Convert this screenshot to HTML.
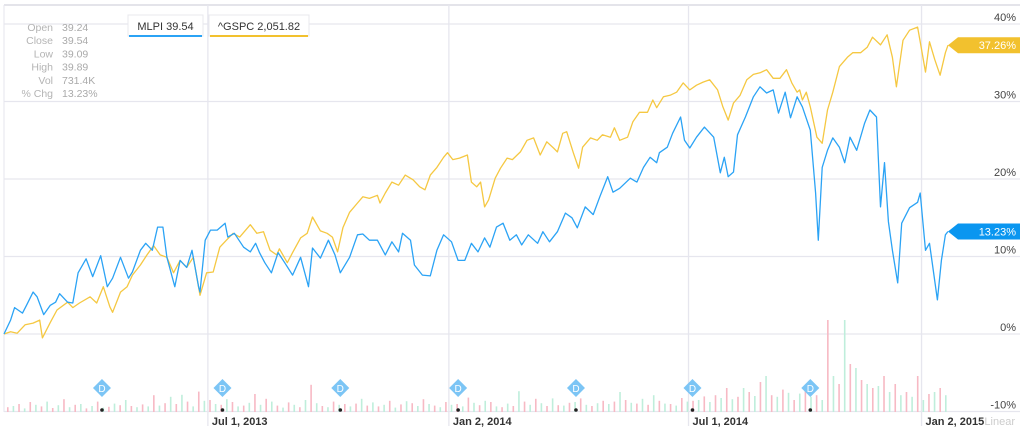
<!DOCTYPE html>
<html><head><meta charset="utf-8">
<style>
body{margin:0;background:#fff;width:1024px;height:436px;overflow:hidden;font-family:"Liberation Sans",sans-serif}
svg{display:block}
</style></head>
<body>
<svg id="chart" width="1024" height="436" xmlns="http://www.w3.org/2000/svg"></svg>
<script>
const mlpiDays=[0,5,8,14,17,22,25,30,35,39,42,48,52,56,62,67,73,78,82,88,94,97,103,107,112,116,120,123,129,133,138,142,147,148,152,156,161,167,169,174,181,186,190,193,197,202,207,212,218,224,230,233,239,245,250,254,261,267,271,276,282,288,293,298,301,307,310,316,322,327,332,338,343,348,353,358,363,367,372,377,382,387,391,396,403,407,412,418,424,429,433,439,445,450,456,460,465,473,478,483,488,493,495,501,505,511,514,518,523,529,536,541,544,547,551,554,560,566,571,576,581,585,590,594,599,603,609,613,615,618,622,626,631,635,639,644,650,654,659,662,665,668,671,675,678,684,690,692,696,699,705,708,711,713];
const mlpiValues=[0,1.8,3.4,2.7,3.7,5.4,4.8,2.5,3.7,4.1,5.2,4.1,4.0,7.9,9.7,7.4,10.1,6.1,7.2,9.9,7.2,8.0,10.8,11.7,10.8,13.8,13.8,9.9,6.1,9.5,8.6,10.8,6.1,5.4,12.1,13.4,13.4,14.3,12.5,13.0,11.2,10.6,11.7,10.5,9.2,7.9,10.5,9.2,7.6,9.9,6.1,11.1,9.8,12.1,10.2,7.9,9.9,12.8,12.9,12.1,12.1,10.2,11.9,10.6,13.0,12.1,8.9,7.6,7.5,10.8,12.8,11.9,9.5,9.5,11.7,10.6,12.4,11.2,13.8,14.3,12.1,12.8,11.5,12.8,11.7,13.2,11.9,13.2,15.6,15.0,13.7,16.4,15.4,17.7,20.3,18.3,18.8,20.1,19.6,21.5,22.8,22.1,23.4,24.1,25.9,28.0,25.0,24.0,25.4,26.7,25.4,20.8,22.8,20.3,20.9,25.7,28.0,30.6,31.9,31.1,31.5,28.5,31.2,27.9,30.6,29.3,26.3,18.2,12.1,21.5,23.7,25.3,24.1,22.1,25.4,23.7,27.2,28.9,28.0,16.4,22.1,14.5,10.8,6.6,14.3,16.3,17.0,18.2,10.8,11.7,4.4,9.5,12.8,13.23];
const gspcDays=[0,5,10,16,22,27,29,35,40,48,52,57,65,70,75,80,82,88,93,97,103,108,113,118,123,128,133,138,143,148,153,158,163,168,173,178,186,191,196,201,206,208,214,218,224,229,233,239,244,248,252,256,261,267,271,276,282,284,288,293,298,303,309,314,318,322,327,332,335,339,344,350,353,357,360,363,366,371,375,380,384,390,395,400,405,410,415,418,422,425,430,434,437,443,448,452,458,461,465,471,475,480,486,490,493,498,503,508,513,518,523,528,533,539,543,547,551,556,561,566,571,576,581,586,591,595,599,601,603,606,609,614,618,622,626,631,637,641,647,652,656,662,667,671,674,679,684,690,692,696,699,703,707,711,713];
const gspcValues=[0,0.3,0.1,1.2,1.4,1.8,-0.5,1.5,3.1,4.1,3.4,4.0,4.8,4.0,6.1,3.5,2.8,5.4,6.1,7.6,8.9,10.2,11.4,10.2,9.9,7.9,9.5,8.6,9.9,5.0,7.9,8.0,11.2,12.1,13.0,12.5,14.1,13.0,13.2,10.8,10.2,11.0,9.2,10.5,12.4,13.0,15.1,13.3,13.0,12.5,10.6,13.7,15.7,16.9,17.7,17.5,17.9,16.9,18.2,19.6,19.2,20.5,19.9,19.0,18.6,20.5,21.5,22.8,23.4,22.5,22.7,23.1,19.6,19.0,19.6,16.4,17.3,20.1,21.4,22.7,22.5,23.5,25.0,25.3,23.1,24.8,24.0,23.5,25.9,26.1,23.4,21.4,24.1,25.3,25.0,25.7,25.4,26.6,25.0,25.4,27.4,28.6,28.6,30.2,29.2,30.6,30.8,31.2,32.4,31.5,32.1,32.5,32.8,31.5,29.3,27.6,29.8,30.8,32.8,33.5,33.7,34.1,33.0,33.0,34.1,32.4,31.2,31.5,30.2,31.2,29.3,25.4,24.6,28.9,31.2,34.5,35.7,36.3,36.3,37.0,38.3,37.3,38.6,35.7,31.9,37.9,39.2,39.6,37.7,33.8,37.7,35.4,33.4,36.3,37.26];
const yTicks=[40,30,20,10,0,-10];
const yTickLabels=["40%","30%","20%","10%","0%","-10%"];
const xTickDays=[154,336,517,693];
const xTickLabels=["Jul 1, 2013","Jan 2, 2014","Jul 1, 2014","Jan 2, 2015"];
const dividendDays=[74,165,254,343,432,520,609];
// volume in thousands; negative = down day (red)
const volumes=[-120,150,-200,90,-250,180,-140,260,-100,170,-320,120,-180,200,-90,150,-260,110,-130,210,-170,300,-150,120,-190,140,-420,160,-220,380,-200,430,-260,140,-510,280,-300,200,-180,320,-250,140,-160,230,-450,180,-330,260,-160,110,-240,180,-120,300,-680,220,-150,120,-260,180,-200,140,-210,330,-160,240,-140,180,-280,110,-190,270,-220,150,-320,200,-160,120,-250,180,-200,140,-360,230,-170,280,-250,140,-120,210,-150,520,-260,180,-330,220,-150,340,-170,160,-230,250,-340,180,-150,220,-280,200,-260,500,-300,230,-210,330,-180,420,-280,210,-200,160,-350,260,-280,300,-390,250,-420,350,-600,320,-380,600,-500,400,-750,900,-420,380,-560,480,-300,460,-650,380,-420,300,-2300,900,-700,2300,-1200,1100,-800,700,-600,650,-900,500,-700,420,-500,380,-900,300,-450,500,-600,420];
const svgNS="http://www.w3.org/2000/svg";
const svg=document.getElementById('chart');
const X0=4,PXDAY=1.324,Y0=334,PXPCT=7.75,VBASE=412,PXVOL=0.04;
function xScale(d){return X0+d*PXDAY;}
function yScale(v){return Y0-v*PXPCT;}
function mk(tag,attrs){const e=document.createElementNS(svgNS,tag);for(const k in attrs)e.setAttribute(k,attrs[k]);svg.appendChild(e);return e;}
// frame
let e=mk('line',{x1:4,y1:5,x2:1020,y2:5,stroke:'#dcdce4','stroke-width':1.5});


e=mk('line',{x1:4,y1:5,x2:4,y2:412,stroke:'#e6e6ee','stroke-width':1});


yTicks.forEach((t,i)=>{
  const y=yScale(t);
  const g=mk('line',{x1:4,y1:y,x2:1020,y2:y,stroke:'#e6e6ee','stroke-width':1.3});
  
  
  const tx=mk('text',{x:1016,y:y-3,'text-anchor':'end','font-size':11,fill:'#444'});
  tx.textContent=yTickLabels[i];
  
  
});
xTickDays.forEach((d,i)=>{
  const x=xScale(d);
  const g=mk('line',{x1:x,y1:5,x2:x,y2:426,stroke:'#e6e6ee','stroke-width':1.3});
  
  
  const tx=mk('text',{x:x+4,y:425,'font-size':11,'font-weight':'bold',fill:'#333'});
  tx.textContent=xTickLabels[i];
  
  
});
// volume bars
const vstep=(945-7)/(volumes.length-1);
volumes.forEach((v,i)=>{
  const h=Math.abs(v)*PXVOL;
  const r=mk('rect',{x:7+i*vstep,y:VBASE-h,width:1.6,height:h,fill:v<0?'#f7b9c4':'#bfeedb'});
  
  
});
// dividends
dividendDays.forEach(d=>{
  const x=xScale(d);
  const dot=mk('circle',{cx:x,cy:410,r:1.8,fill:'#222'});
  
  
  const p=mk('polygon',{points:`${x},379 ${x+9},388 ${x},397 ${x-9},388`,fill:'#7cc5f5'});
  
  
  const t=mk('text',{x:x,y:392,'text-anchor':'middle','font-size':10,fill:'#fff'});
  t.textContent='D';
  
  
});
function line(days,vals,color,name){
  const pts=days.map((d,i)=>xScale(d).toFixed(1)+','+yScale(vals[i]).toFixed(1)).join(' ');
  const p=mk('polyline',{points:pts,fill:'none',stroke:color,'stroke-width':1.3,'stroke-linejoin':'round'});
  
  
}
line(gspcDays,gspcValues,'#f5c842','gspc-line');
line(mlpiDays,mlpiValues,'#2ba3f5','mlpi-line');
function tag(v,color,name){
  const y=yScale(v);
  const p=mk('polygon',{points:`948,${y} 958,${y-8} 1020,${y-8} 1020,${y+8} 958,${y+8}`,fill:color});
  
  
  const t=mk('text',{x:1016,y:y+4,'text-anchor':'end','font-size':11,fill:'#fff'});
  t.textContent=v.toFixed(2)+'%';
  
  
}
tag(gspcValues[gspcValues.length-1],'#f2c12e','gspc-last-value-tag');
tag(mlpiValues[mlpiValues.length-1],'#0a96f0','mlpi-last-value-tag');
e=mk('text',{x:1015,y:425,'text-anchor':'end','font-size':11,fill:'#ccc'});
e.textContent='Linear';


// info panel
const infoL=["Open","Close","Low","High","Vol","% Chg"];
const infoV=["39.24","39.54","39.09","39.89","731.4K","13.23%"];
infoL.forEach((l,i)=>{
  const y=31+i*13.2;
  const a=mk('text',{x:53,y:y,'text-anchor':'end','font-size':10.5,fill:'#b4b4b4'});a.textContent=l;
  
  
  const b=mk('text',{x:62,y:y,'font-size':10.5,fill:'#aaa'});b.textContent=infoV[i];
  
  
});
// legend
function legend(x,w,label,color,name){
  const r=mk('rect',{x:x,y:15,width:w,height:21,fill:'#fff',stroke:'#e8e8ee'});
  
  
  const u=mk('rect',{x:x+1,y:35,width:w-2,height:2,fill:color});
  
  
  const t=mk('text',{x:x+w/2,y:30,'text-anchor':'middle','font-size':11,fill:'#333'});
  t.textContent=label;
  
  
}
legend(128,75,'MLPI 39.54','#2ba3f5','legend-mlpi');
legend(209,100,'^GSPC 2,051.82','#f2c12e','legend-gspc');
</script>
</body></html>
